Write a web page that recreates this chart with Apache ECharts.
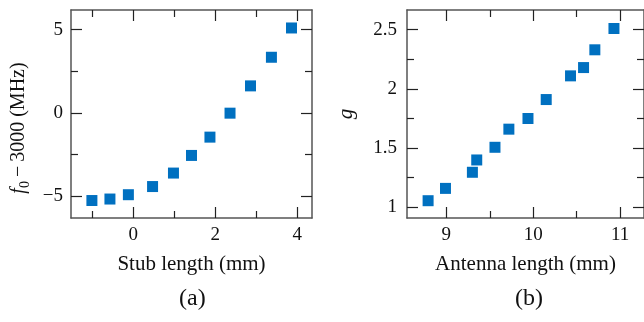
<!DOCTYPE html>
<html>
<head>
<meta charset="utf-8">
<script src="https://cdn.jsdelivr.net/npm/echarts@6/dist/echarts.min.js"></script>
<style>
html,body{margin:0;padding:0;background:#fff;}
#chart{width:644px;height:322px;}
</style>
</head>
<body>
<div id="chart"></div>
<script>
// ---- data ----
var stubLength = [-1.01, -0.57, -0.12, 0.47, 0.98, 1.42, 1.87, 2.36, 2.86, 3.37, 3.86];
var freqOffset = [-5.27, -5.18, -4.92, -4.43, -3.62, -2.56, -1.46, -0.02, 1.62, 3.34, 5.10];
var antennaLength = [8.79, 8.99, 9.30, 9.35, 9.56, 9.72, 9.94, 10.15, 10.43, 10.58, 10.71, 10.93];
var gValue = [1.056, 1.16, 1.296, 1.40, 1.507, 1.66, 1.75, 1.91, 2.11, 2.18, 2.33, 2.51];

var aXMajor = [0, 2, 4];
var aXMinor = [-1, 1, 3];
var aYMajor = [-5, 0, 5];
var aYMinor = [-2.5, 2.5];
var bXMajor = [9, 10, 11];
var bXMinor = [9.5, 10.5];
var bYMajor = [1, 1.5, 2, 2.5];
var bYMinor = [1.25, 1.75, 2.25];

var FONT = 'Liberation Serif';
var LINE = '#555';
var MARK = '#0070C0';

function pairs(xs, ys) {
  return xs.map(function (x, i) { return [x, ys[i]]; });
}

function axisSet(dim, grid, min, max, major, minor, name, nameGap, labelMargin, rich, namePad) {
  var main = dim === 'x' ? 'bottom' : 'left';
  var other = dim === 'x' ? 'top' : 'right';
  var base = {
    type: 'value', gridIndex: grid, min: min, max: max,
    splitLine: { show: false }
  };
  function mk(pos, vals, len, showLine, labels) {
    var a = Object.assign({}, base, {
      position: pos,
      axisLine: { show: showLine, onZero: false, lineStyle: { color: LINE, width: 1.5 } },
      axisTick: { show: true, inside: true, length: len, customValues: vals,
                  lineStyle: { color: '#222', width: 1.2 } },
      axisLabel: labels ? { show: true, customValues: major, margin: labelMargin,
                            fontFamily: FONT, fontSize: 19, color: '#111',
                            formatter: function (v) { return String(v).replace('-', '\u2212'); } }
                        : { show: false }
    });
    return a;
  }
  var list = [
    mk(main, major, 11, true, true),
    mk(main, minor, 7, false, false),
    mk(other, major, 11, true, false),
    mk(other, minor, 7, false, false)
  ];
  list[0].name = name;
  list[0].nameLocation = 'middle';
  list[0].nameGap = nameGap;
  list[0].nameTextStyle = { fontFamily: FONT, fontSize: 21, color: '#111', rich: rich || {},
                            padding: namePad || 0 };
  if (dim === 'y') list[0].nameRotate = 90;
  return list;
}

var richF = {
  i: { fontFamily: FONT, fontSize: 20, fontStyle: 'italic', color: '#111', lineHeight: 20 },
  s: { fontFamily: FONT, fontSize: 14, color: '#111', verticalAlign: 'top', lineHeight: 11, padding: [9, 0, 0, 0] },
  n: { fontFamily: FONT, fontSize: 20, color: '#111', lineHeight: 20 }
};
var richG = {
  i: { fontFamily: FONT, fontSize: 21, fontStyle: 'italic', color: '#111' }
};

var xAxes = [].concat(
  axisSet('x', 0, -1.52, 4.36, aXMajor, aXMinor, 'Stub length (mm)', 36, 8),
  axisSet('x', 1, 8.547, 11.276, bXMajor, bXMinor, 'Antenna length (mm)', 36, 8)
);
var yAxes = [].concat(
  axisSet('y', 0, -6.32, 6.18, aYMajor, aYMinor, '{i|f}{s|0}{n|\u2009\u2212\u20093000 (MHz)}', 42, 8, richF, [0, 28, 0, 0]),
  axisSet('y', 1, 0.91, 2.666, bYMajor, bYMinor, '{i|g}', 50, 10, richG)
);

var chart = echarts.init(document.getElementById('chart'), null, { renderer: 'canvas' });
chart.setOption({
  animation: false,
  backgroundColor: '#fff',
  grid: [
    { left: 71, top: 10, width: 241, height: 208 },
    { left: 407, top: 10, width: 241, height: 208 }
  ],
  xAxis: xAxes,
  yAxis: yAxes,
  graphic: [
    { type: 'text', left: 179, top: 287, style: { text: '(a)', fontFamily: FONT, fontSize: 24, fill: '#111' } },
    { type: 'text', left: 515, top: 287, style: { text: '(b)', fontFamily: FONT, fontSize: 24, fill: '#111' } }
  ],
  series: [
    { type: 'scatter', xAxisIndex: 0, yAxisIndex: 0, symbol: 'rect', symbolSize: 11,
      itemStyle: { color: MARK, opacity: 1 }, data: pairs(stubLength, freqOffset) },
    { type: 'scatter', xAxisIndex: 4, yAxisIndex: 4, symbol: 'rect', symbolSize: 11,
      itemStyle: { color: MARK, opacity: 1 }, data: pairs(antennaLength, gValue) }
  ]
});
</script>
</body>
</html>
